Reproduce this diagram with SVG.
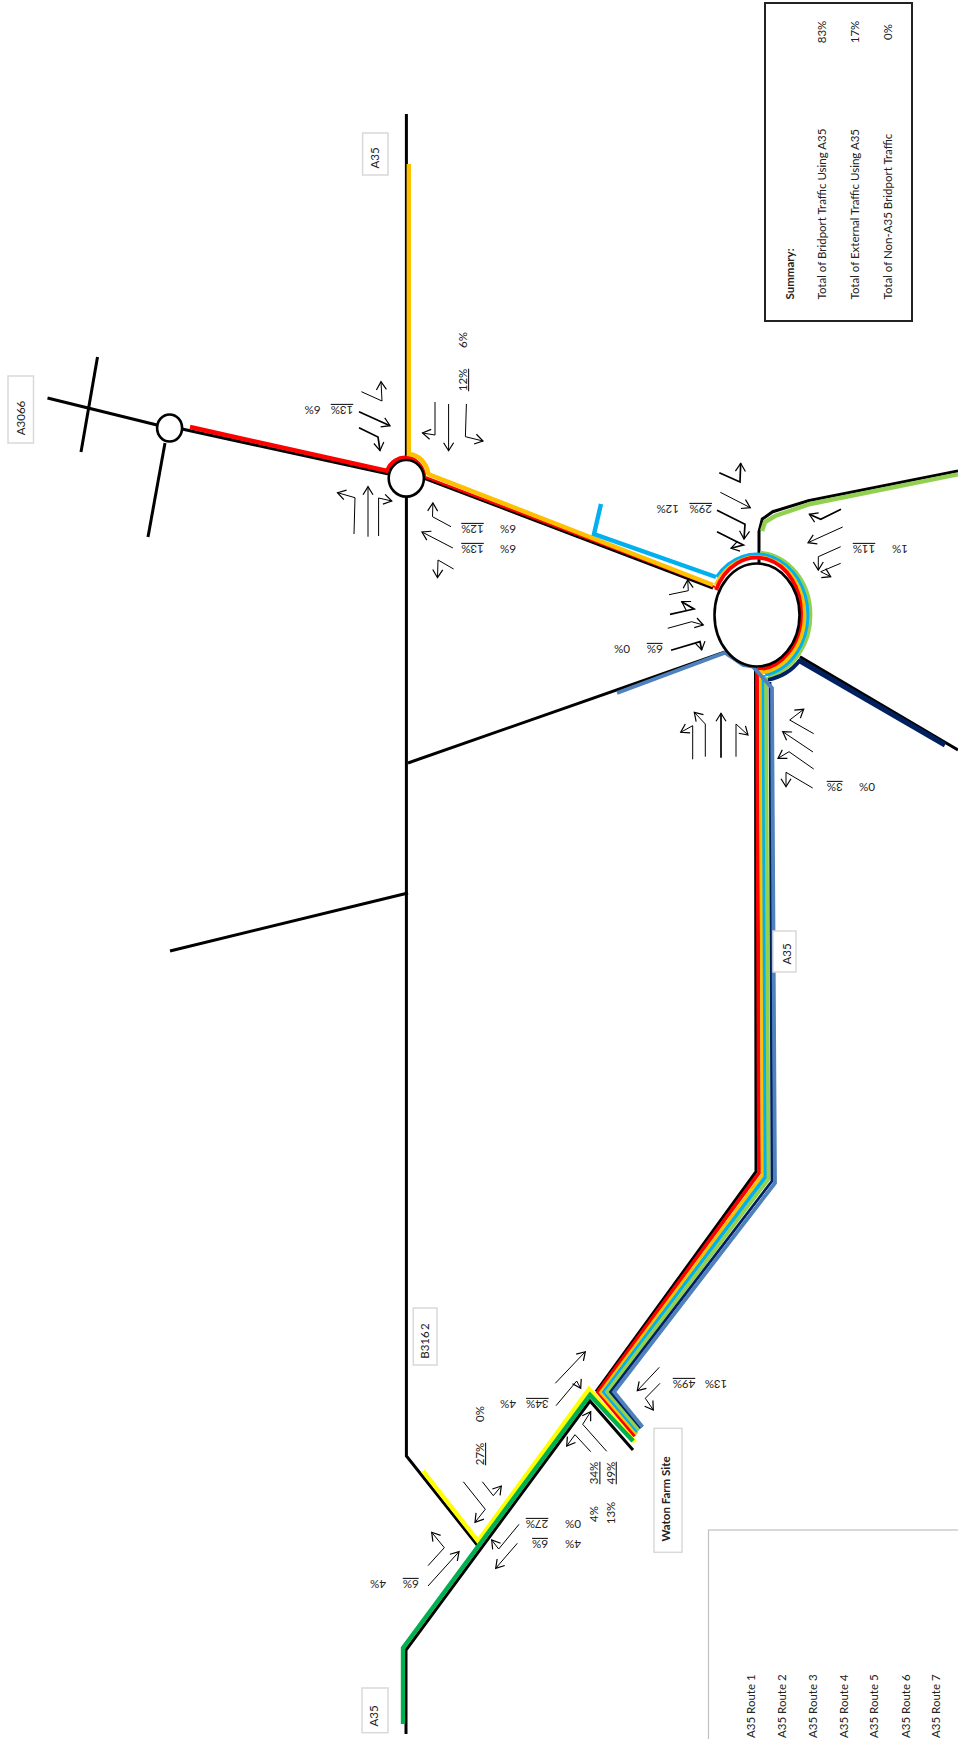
<svg xmlns="http://www.w3.org/2000/svg" width="958" height="1739" viewBox="0 0 958 1739">
<style>
text{font-family:"Lato","Liberation Sans",sans-serif;font-size:11.5px;fill:#222;text-anchor:middle}
.s{text-anchor:start}
.u{text-decoration:underline}
.b{font-weight:bold}
.box{fill:#fff;stroke:#d9d9d9;stroke-width:1.5}
.r{fill:none;stroke:#000;stroke-width:3;stroke-linejoin:miter}
.t{fill:none;stroke-width:3.8;stroke-linejoin:miter}
.w{stroke-width:4.4}
.red{stroke:#f00}.org{stroke:#ffc000}.cyn{stroke:#00b0f0}.grn{stroke:#92d050}.nvy{stroke:#002060}.blu{stroke:#4f81bd}.yel{stroke:#ff0}.dgr{stroke:#00b050}
.a{fill:none;stroke:#000;stroke-width:1;marker-end:url(#h)}
.k{fill:none;stroke:#000;stroke-width:1.7;marker-end:url(#h)}
.c{fill:#fff;stroke:#000;stroke-width:2.6}
</style>
<defs>
<marker id="h" markerUnits="userSpaceOnUse" markerWidth="16" markerHeight="16" refX="9" refY="8" orient="auto"><path d="M1,3 L9,8 L1,13" fill="none" stroke="#000" stroke-width="1.2"/></marker>
</defs>
<rect width="958" height="1739" fill="#fff"/>
<g id="connectors">
<path class="r" d="M47.5,398 L157,425"/>
<path class="r" d="M97.5,357 L81,452"/>
<path class="r" d="M165,443 L148,537"/>
<path class="r" d="M182,429 L388.6,474"/>
<path class="r" d="M406.4,114 V460"/>
<path class="r" d="M406.4,497 V1456 L478,1546"/>
<path class="r" d="M425,478.5 L713,588"/>
<path class="r" d="M408,763 L725,652"/>
<path class="r" d="M408,893 L170,951"/>
<path class="r" d="M759,565 V531.7 L762.3,519 L772.7,511.7 L808.3,500.7 L958,471"/>
<path class="r" d="M800,656.7 L958,750"/>
<path class="r" d="M755.5,667 L756,1171.7 L596,1391.7"/>
<path class="r" d="M406,1734 V1650 L590,1401 L633,1450"/>
<path class="t w yel" d="M423,1471 L478,1541 L589,1389 L635,1442"/>
<path class="t w dgr" d="M403,1724 V1648 L590,1395 L633,1441"/>
<path class="t w red" d="M190,427 L387.3,471 A19,20.5 0 0 1 424,476.7"/>
<path class="t red" style="stroke-width:2.4" d="M424,476.7 L715,587"/>
<path class="t w org" d="M408.8,164 V454 A21,24 0 0 1 428.3,473.5 L430,474.7 L713,585"/>
<path class="t w cyn" d="M601,504 L594,534 L716,577"/>
<path class="t grn" d="M760,552.7 A54,62.5 0 0 1 810.5,615 A54,62.5 0 0 1 768,676.5"/>
<path class="t cyn" d="M716.8,577 A51,60.5 0 0 1 807.5,615 A51,60.5 0 0 1 765,674.7"/>
<path class="t org" d="M715.5,585 A48,58 0 0 1 804.5,615 A48,58 0 0 1 761,672.5"/>
<path class="t red" d="M716,590 A44.5,55 0 0 1 801,615 A44.5,55 0 0 1 758,669.5"/>
<path class="t w grn" d="M762,531 L765,522 L775,516 L810,504 L958,474.3"/>
<path class="t nvy" style="stroke-width:5" d="M798.3,660 L945,745"/>
<path class="t nvy" d="M800,660 Q788,676 767,680"/>
<path class="t red" d="M757,668 L759,1173 L598,1392 L635,1436"/>
<path class="t org" d="M761,670 L762.7,1175 L601,1392.5 L637,1434"/>
<path class="t cyn" d="M763.5,675 L765.5,1177 L604,1392 L637.5,1431.5"/>
<path class="t grn" d="M766,677 L768.5,1179 L607,1392 L639,1430"/>
<path class="t nvy" style="stroke-width:2.8" d="M770,682 L772,1181 L610.5,1392 L641,1428"/>
<path class="t blu" d="M617,693 L725,652.7 L743,665 L753,666.7 L772,688 L775,1183 L614,1392 L642.5,1427"/>
</g>
<g id="arrows">
<polyline class="a" points="361.4,391.7 382,401 381,381.7"/>
<polyline class="k" points="359,411.7 390,425.7"/>
<polyline class="k" points="359,427.7 378,437 380,450.7"/>
<polyline class="a" points="435,402 435,435 422.5,433"/>
<polyline class="a" points="448.6,404 448.6,450.7"/>
<polyline class="a" points="466.4,404 465.4,436.7 483,441"/>
<polyline class="a" points="354,534 355,497.7 337.5,492.7"/>
<polyline class="a" points="368,536.7 368,486.7"/>
<polyline class="a" points="378.6,536 378.6,498 391.8,501"/>
<polyline class="a" points="451,526.7 432.5,516.7 432.9,503"/>
<polyline class="a" points="452.9,548 422,532"/>
<polyline class="a" points="453.6,569 438,560 437.5,577.7"/>
<polyline class="k" points="719.3,472.7 740,482 740.7,463.3"/>
<polyline class="a" points="720.3,492.3 750.3,507.7"/>
<polyline class="k" points="717,510.3 745,524.3 744,539"/>
<polyline class="k" points="717,531.7 743.3,545 731,548.3"/>
<polyline class="k" points="841,509.3 820.7,519.3 809.3,514.3"/>
<polyline class="a" points="842.7,527 808,542.7"/>
<polyline class="a" points="840.7,546.7 818.3,556.7 818.3,570"/>
<polyline class="a" points="840.7,563.3 820.7,571.7 830.7,576.7"/>
<polyline class="a" points="669,594.7 688.3,590.7 687.7,580"/>
<polyline class="k" points="670,614.3 694,609 681.7,601.7"/>
<polyline class="a" points="667.7,628.3 691.7,621.7 703.3,625"/>
<polyline class="k" points="671,650.3 700,641.7 701.7,650"/>
<polyline class="a" points="692.7,759.3 692.7,725.7 680.7,732.3"/>
<polyline class="a" points="705.3,756.7 705.3,724 694.3,712.3"/>
<polyline class="k" points="721,757.7 721,713.3"/>
<polyline class="a" points="736,756.7 736,724 748,735"/>
<polyline class="a" points="813.7,733.7 789.7,720 803.7,709.3"/>
<polyline class="a" points="813,752 782.7,731.7"/>
<polyline class="a" points="813.7,769 789,751.7 778,758.3"/>
<polyline class="a" points="812.7,788 786,772.3 786,786.7"/>
<polyline class="a" points="555.3,1383.3 585.3,1351.7"/>
<polyline class="a" points="556,1405.7 576.7,1381 580.7,1388.3"/>
<polyline class="a" points="659.3,1367.3 637.3,1390.7"/>
<polyline class="a" points="660,1383.3 645.3,1398.3 653.3,1410"/>
<polyline class="a" points="606.7,1451.3 582.7,1424.3 590.7,1411.7"/>
<polyline class="a" points="590.7,1451.7 575,1434.7 566.7,1446"/>
<polyline class="a" points="463.3,1481.7 485.3,1509.3 475,1522.3"/>
<polyline class="a" points="482.3,1481.7 493.3,1495.7 501.3,1486"/>
<polyline class="a" points="519,1524.3 498.7,1549 491.7,1540"/>
<polyline class="a" points="517.3,1543.3 495.7,1568.3"/>
<polyline class="a" points="428,1565.7 444.3,1547.7 431.7,1532.3"/>
<polyline class="a" points="428,1586 459,1551.7"/>
</g>
<g id="roundabout-a3066-small"><ellipse class="c" cx="169.6" cy="428" rx="12.5" ry="13.5"/></g>
<g id="roundabout-main-north"><ellipse class="c" cx="406.3" cy="478.3" rx="17.6" ry="18.3"/></g>
<g id="roundabout-large"><ellipse class="c" cx="757" cy="615" rx="42.5" ry="51.5"/></g>
<g id="label-a3066"><rect class="box" x="8" y="376" width="25.5" height="67"/><text transform="translate(21,418) rotate(-90)" y="4">A3066</text></g>
<g id="label-a35-top"><rect class="box" x="362.6" y="133" width="25.4" height="42"/><text transform="translate(375,158) rotate(-90)" y="4">A35</text></g>
<g id="label-a35-mid"><rect class="box" x="773" y="931" width="23" height="41"/><text transform="translate(787,954) rotate(-90)" y="4">A35</text></g>
<g id="label-b3162"><rect class="box" x="413.3" y="1308" width="23.7" height="57"/><text transform="translate(425,1341) rotate(-90)" y="4" style="word-spacing:-1.5px">B316 2</text></g>
<g id="label-waton"><rect class="box" x="654" y="1428.3" width="28" height="124"/><text class="b" transform="translate(666,1499) rotate(-90)" y="4">Waton Farm Site</text></g>
<g id="label-a35-bottom"><rect class="box" x="362" y="1688" width="26" height="44.7"/><text transform="translate(374,1716) rotate(-90)" y="4">A35</text></g>
<g id="legend">
<rect x="708.5" y="1530" width="260" height="230" fill="#fff" stroke="#c0c0c0" stroke-width="1.2"/>
<text class="s" transform="translate(751,1738) rotate(-90)" y="4">A35 Route 1</text>
<text class="s" transform="translate(782,1738) rotate(-90)" y="4">A35 Route 2</text>
<text class="s" transform="translate(813,1738) rotate(-90)" y="4">A35 Route 3</text>
<text class="s" transform="translate(844,1738) rotate(-90)" y="4">A35 Route 4</text>
<text class="s" transform="translate(874,1738) rotate(-90)" y="4">A35 Route 5</text>
<text class="s" transform="translate(905.6,1738) rotate(-90)" y="4">A35 Route 6</text>
<text class="s" transform="translate(936.4,1738) rotate(-90)" y="4">A35 Route 7</text>
</g>
<g id="summary">
<rect x="765" y="3" width="147" height="318" fill="#fff" stroke="#222" stroke-width="2"/>
<text class="s b" transform="translate(790,299.5) rotate(-90)" y="4">Summary:</text>
<text class="s" transform="translate(822,299.5) rotate(-90)" y="4">Total of Bridport Traffic Using A35</text>
<text class="s" transform="translate(855,299.5) rotate(-90)" y="4">Total of External Traffic Using A35</text>
<text class="s" transform="translate(887.7,299.5) rotate(-90)" y="4">Total of Non-A35 Bridport Traffic</text>
<text transform="translate(822,32) rotate(-90)" y="4">83%</text>
<text transform="translate(855,32) rotate(-90)" y="4">17%</text>
<text transform="translate(887.7,32) rotate(-90)" y="4">0%</text>
</g>
<g id="percentages">
<text class="u" transform="translate(342,410) rotate(180)" y="4">13%</text>
<text transform="translate(312.5,410) rotate(180)" y="4">6%</text>
<text class="u" transform="translate(463,380) rotate(-90)" y="4">12%</text>
<text transform="translate(463,340) rotate(-90)" y="4">6%</text>
<text class="u" transform="translate(472.5,529) rotate(180)" y="4">12%</text>
<text transform="translate(508,529) rotate(180)" y="4">6%</text>
<text class="u" transform="translate(472.5,549) rotate(180)" y="4">13%</text>
<text transform="translate(508,549) rotate(180)" y="4">6%</text>
<text class="u" transform="translate(864,549) rotate(180)" y="4">11%</text>
<text transform="translate(900,549) rotate(180)" y="4">1%</text>
<text class="u" transform="translate(700.7,509) rotate(180)" y="4">29%</text>
<text transform="translate(667.7,509) rotate(180)" y="4">12%</text>
<text class="u" transform="translate(654.7,649) rotate(180)" y="4">6%</text>
<text transform="translate(622,649) rotate(180)" y="4">0%</text>
<text class="u" transform="translate(834.7,787) rotate(180)" y="4">3%</text>
<text transform="translate(867,787) rotate(180)" y="4">0%</text>
<text class="u" transform="translate(537.3,1404) rotate(180)" y="4">34%</text>
<text transform="translate(508,1404) rotate(180)" y="4">4%</text>
<text transform="translate(480,1414) rotate(-90)" y="4">0%</text>
<text class="u" transform="translate(480,1454) rotate(-90)" y="4">27%</text>
<text class="u" transform="translate(684,1384) rotate(180)" y="4">49%</text>
<text transform="translate(716,1384) rotate(180)" y="4">13%</text>
<text class="u" transform="translate(594.3,1473) rotate(-90)" y="4">34%</text>
<text class="u" transform="translate(610.7,1473) rotate(-90)" y="4">49%</text>
<text transform="translate(594.3,1514) rotate(-90)" y="4">4%</text>
<text transform="translate(610.7,1513) rotate(-90)" y="4">13%</text>
<text class="u" transform="translate(537,1524) rotate(180)" y="4">27%</text>
<text transform="translate(573,1524) rotate(180)" y="4">0%</text>
<text class="u" transform="translate(540,1544) rotate(180)" y="4">6%</text>
<text transform="translate(573,1544) rotate(180)" y="4">4%</text>
<text class="u" transform="translate(410.7,1584) rotate(180)" y="4">6%</text>
<text transform="translate(378,1584) rotate(180)" y="4">4%</text>
</g>
</svg>
